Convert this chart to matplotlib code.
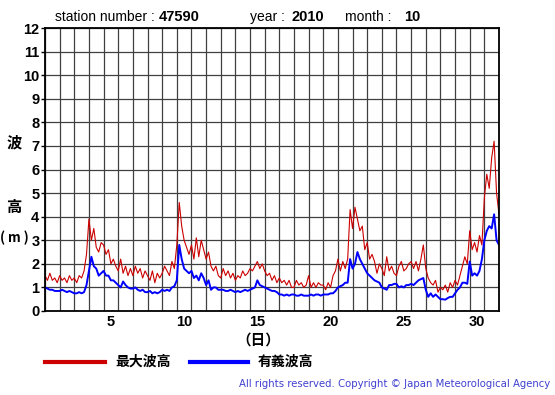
import numpy as np
import matplotlib
matplotlib.use("Agg")
from matplotlib import pyplot as plt

# 4-hourly readings, Oct 1 00:00 .. Oct 31 24:00 (6 per day + final point)
max_wave = [
    1.5, 1.3, 1.6, 1.3, 1.4, 1.2,
    1.5, 1.3, 1.4, 1.2, 1.5, 1.3,
    1.4, 1.2, 1.5, 1.4, 1.7, 2.4,
    3.9, 3.0, 3.5, 2.7, 2.5, 2.9,
    2.8, 2.4, 2.6, 2.0, 2.2, 1.9,
    1.7, 2.2, 1.6, 1.9, 1.5, 1.8,
    1.5, 1.9, 1.6, 1.8, 1.4, 1.7,
    1.5, 1.3, 1.7, 1.2, 1.6, 1.4,
    1.6, 1.9, 1.7, 1.5, 2.1, 1.8,
    2.8, 4.6, 3.6, 3.0, 2.7, 2.4,
    2.8, 2.2, 3.1, 2.3, 3.0, 2.6,
    2.2, 2.5, 1.9, 1.7, 1.9, 1.5,
    1.4, 1.8, 1.5, 1.7, 1.4, 1.6,
    1.3, 1.5, 1.4, 1.7, 1.5, 1.6,
    1.8, 1.7, 1.9, 2.1, 1.8, 2.0,
    1.7, 1.5, 1.6, 1.3, 1.5, 1.2,
    1.4, 1.2, 1.3, 1.1, 1.3, 1.0,
    1.0, 1.3, 1.1, 1.2, 1.0, 1.1,
    1.5, 1.0, 1.2, 1.0, 1.2, 1.1,
    1.1, 0.9, 1.2, 1.0, 1.5, 1.7,
    2.2, 1.7, 2.1, 1.8, 2.2, 4.3,
    3.5, 4.4, 3.9, 3.4, 3.6, 2.6,
    2.9, 2.2, 2.4, 2.1, 1.6, 2.0,
    1.8, 1.5, 2.3, 1.7, 1.9, 1.6,
    1.5, 1.9, 2.1, 1.7, 1.8, 2.0,
    2.1, 1.8, 2.1, 1.7, 2.2, 2.8,
    1.8, 1.4, 1.2, 1.1, 1.3, 0.8,
    1.0, 0.9, 1.1, 0.8, 1.2, 1.0,
    1.3, 1.1, 1.5, 1.9, 2.3, 2.0,
    3.4, 2.6, 2.9, 2.5, 3.2, 2.8,
    4.8, 5.8, 5.2, 6.5, 7.2, 5.0,
    4.1,
]
sig_wave = [
    1.0, 0.95, 0.9, 0.9, 0.85, 0.85,
    0.85, 0.9, 0.85, 0.8, 0.85, 0.8,
    0.75, 0.75, 0.8, 0.75, 0.8, 1.1,
    1.7, 2.3, 1.9, 1.8, 1.5, 1.6,
    1.7, 1.5, 1.5, 1.3, 1.3, 1.2,
    1.1, 1.0, 1.25, 1.1, 1.0, 0.95,
    0.95, 1.0, 0.9, 0.85, 0.9, 0.8,
    0.8, 0.85, 0.75, 0.8, 0.75, 0.8,
    0.9, 0.85, 0.9, 0.85, 1.0, 1.05,
    1.3, 2.8, 2.2, 1.8, 1.7, 1.6,
    1.7, 1.4, 1.5, 1.3, 1.6, 1.4,
    1.1, 1.3, 0.9, 1.0, 1.0, 0.9,
    0.9, 0.9, 0.85, 0.85, 0.9, 0.85,
    0.8, 0.85, 0.8, 0.85, 0.9, 0.85,
    0.9, 0.95, 1.0, 1.3, 1.1, 1.05,
    1.0, 0.95, 0.9, 0.85, 0.85, 0.8,
    0.7, 0.7, 0.65, 0.7, 0.65, 0.7,
    0.7, 0.65, 0.65, 0.7, 0.65, 0.65,
    0.65, 0.7, 0.65, 0.7, 0.7, 0.65,
    0.7, 0.7, 0.7, 0.75, 0.75, 0.85,
    1.0, 1.05, 1.1, 1.2, 1.2, 2.2,
    1.8, 2.0, 2.5, 2.2, 2.0, 1.8,
    1.6, 1.5, 1.4, 1.3, 1.25, 1.2,
    1.0, 0.95, 0.9, 1.1, 1.1, 1.15,
    1.15, 1.0, 1.05, 1.0, 1.1, 1.1,
    1.15, 1.1, 1.2, 1.3, 1.35, 1.4,
    0.9, 0.6, 0.75, 0.6, 0.7, 0.6,
    0.5, 0.5, 0.48, 0.55, 0.6, 0.6,
    0.75, 0.9, 1.0, 1.2, 1.2, 1.15,
    2.1, 1.5, 1.6, 1.5, 1.7, 2.2,
    3.0, 3.4, 3.6, 3.5, 4.1, 3.0,
    2.8,
]
day_labels = [5, 10, 15, 20, 25, 30]
station = "47590"
year = "2010"
month = "10"

days = np.arange(len(max_wave)) / 6.0
cjk = ["Noto Sans CJK JP", "DejaVu Sans"]
num_font = "Liberation Sans"

fig = plt.figure(figsize=(5.55, 3.95), dpi=100)
ax = fig.add_axes([45 / 555, 1 - 311 / 395, 454 / 555, 283 / 395])

ax.plot(days, max_wave, color="#cc0000", lw=0.8)
ax.plot(days, sig_wave, color="#0000ff", lw=1.4)

ax.set_xlim(0, 31)
ax.set_ylim(0, 12)
ax.set_xticks(np.arange(0, 32), minor=True)
ax.set_xticks([d - 0.5 for d in day_labels])
ax.set_xticklabels([str(d) for d in day_labels], fontfamily=num_font,
                   fontweight="bold", fontsize=10.5)
ax.set_yticks(range(0, 13))
ax.set_yticklabels([str(v) for v in range(0, 13)], fontfamily=num_font,
                   fontweight="bold", fontsize=10.5)
ax.tick_params(axis="x", which="both", length=0, pad=3)
ax.tick_params(axis="y", length=3, width=1, pad=1)
ax.grid(True, which="minor", axis="x", color="#404040", lw=0.9)
ax.grid(True, which="major", axis="y", color="#404040", lw=0.9)
ax.set_axisbelow(True)
for s in ax.spines.values():
    s.set_linewidth(1.3)

# y label pieces
fig.text(14 / 555, 1 - 142 / 395, "波", family=cjk, fontweight="bold",
         fontsize=11, ha="center", va="center")
fig.text(14 / 555, 1 - 207 / 395, "高", family=cjk, fontweight="bold",
         fontsize=11, ha="center", va="center")
fig.text(14 / 555, 1 - 238 / 395, "( m )", family=cjk, fontweight="bold",
         fontsize=9.5, ha="center", va="center")
fig.text(258 / 555, 1 - 340 / 395, "（日）", family=cjk, fontweight="bold",
         fontsize=10.5, ha="center", va="center")

# header
hy = 1 - 17 / 395
fig.text(55 / 555, hy, "station number : ", fontfamily=num_font,
         fontsize=10, va="center")
fig.text(159 / 555, hy, station, fontfamily=num_font,
         fontweight="bold", fontsize=10.5, va="center")
fig.text(250 / 555, hy, "year : ", fontfamily=num_font,
         fontsize=10, va="center")
fig.text(292 / 555, hy, year, fontfamily=num_font,
         fontweight="bold", fontsize=10.5, va="center")
fig.text(345 / 555, hy, "month : ", fontfamily=num_font,
         fontsize=10, va="center")
fig.text(404 / 555, hy, month, fontfamily=num_font,
         fontweight="bold", fontsize=10.5, va="center")

# legend
ly = 1 - 362 / 395
fig.add_artist(plt.Line2D([45 / 555, 105 / 555], [ly, ly], color="#cc0000", lw=3))
fig.text(115 / 555, ly, "最大波高", family=cjk, fontweight="bold",
         fontsize=10, va="center")
fig.add_artist(plt.Line2D([190 / 555, 248 / 555], [ly, ly], color="#0000ff", lw=3))
fig.text(258 / 555, ly, "有義波高", family=cjk, fontweight="bold",
         fontsize=10, va="center")

fig.text(550 / 555, 1 - 384 / 395,
         "All rights reserved. Copyright © Japan Meteorological Agency",
         fontsize=7.3, color="#4040d0", ha="right", va="center")

fig.savefig("out.png", dpi=100)
